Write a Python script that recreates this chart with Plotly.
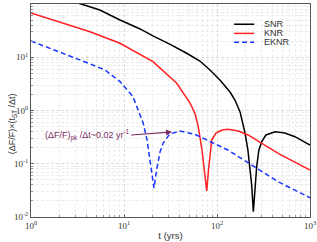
import math
import plotly.graph_objects as go

# ---- data ----
snr_t = [1, 2, 3.6, 5.5, 9.06, 14.9, 20.7, 31, 47.2, 65.5, 84, 107.5, 138, 156, 177, 200, 215,
         226, 236, 246, 256, 267, 282, 303, 336, 421, 537, 690, 1000]
snr_y = [170, 130, 98, 77, 50, 34, 25, 17.7, 11.9, 8.5, 5.77, 3.74, 2.22, 1.57, 0.94, 0.378, 0.18,
         0.088, 0.04, 0.0126, 0.04, 0.088, 0.18, 0.26, 0.347, 0.40, 0.378, 0.322, 0.225]

knr_t = [1, 2.05, 4.31, 9.06, 20.5, 36.9, 51.3, 57.9, 62.9, 69, 73.5, 77.5, 81, 87.7, 97.5,
         113, 131, 169, 216, 455, 1000]
knr_y = [67.8, 45.9, 30.2, 18.3, 8.25, 3.24, 1.38, 0.885, 0.497, 0.181, 0.076, 0.0308, 0.076,
         0.279, 0.378, 0.43, 0.443, 0.412, 0.347, 0.157, 0.076]

eknr_t = [1, 2.05, 4.31, 6.25, 9.06, 12.5, 16.1, 17.7, 19.0, 20.1, 21.0, 22.4, 24.4, 26.4, 31,
          40, 57.9, 131, 235, 455, 1000]
eknr_y = [20.2, 12.6, 7.5, 5.77, 3.48, 1.82, 0.575, 0.279, 0.117, 0.059, 0.035, 0.076, 0.166,
          0.245, 0.362, 0.41, 0.357, 0.181, 0.095, 0.046, 0.023]

series_names = ["SNR", "KNR", "EKNR"]
series_colors = ["black", "#ff2020", "#1a35ff"]
series_dash = ["solid", "solid", "5px,3px"]

x_tickvals = [1, 10, 100, 1000]
x_ticktext = ["10<sup>0</sup>", "10<sup>1</sup>", "10<sup>2</sup>", "10<sup>3</sup>"]
y_tickvals = [0.01, 0.1, 1, 10, 100]
y_ticktext = ["10<sup>-2</sup>", "10<sup>-1</sup>", "10<sup>0</sup>", "10<sup>1</sup>", "10<sup>2</sup>"]

arrow_head = (32.8, 0.394)
arrow_tail = (11.9, 0.347)
arrow_text = "(ΔF/F)<sub>pk</sub> /Δt~0.02 yr<sup>-1</sup>"

fig = go.Figure()
for t, y, name, col, dash in zip([snr_t, knr_t, eknr_t], [snr_y, knr_y, eknr_y],
                                 series_names, series_colors, series_dash):
    fig.add_trace(go.Scatter(x=t, y=y, mode="lines", name=name, showlegend=False,
                             line=dict(color=col, width=1.5, dash=dash)))

# compact legend (line samples + labels in paper coordinates)
leg_x0, leg_x1, leg_tx = 0.728, 0.80, 0.829
leg_rows = [0.905, 0.862, 0.820]
for name, col, dash, ry in zip(series_names, series_colors, series_dash, leg_rows):
    fig.add_shape(type="line", xref="paper", yref="paper", x0=leg_x0, x1=leg_x1, y0=ry, y1=ry,
                  line=dict(color=col, width=1.5, dash=dash))
    fig.add_annotation(xref="paper", yref="paper", x=leg_tx, y=ry, text=name, showarrow=False,
                       xanchor="left", yanchor="middle",
                       font=dict(family="Liberation Sans, Arial", size=9, color="#333"))

purple = "#7a2d5e"
fig.add_annotation(x=math.log10(arrow_head[0]), y=math.log10(arrow_head[1]),
                   ax=math.log10(arrow_tail[0]), ay=math.log10(arrow_tail[1]),
                   axref="x", ayref="y", xref="x", yref="y",
                   text=arrow_text, showarrow=True, arrowhead=2, arrowsize=1,
                   arrowwidth=1.2, arrowcolor=purple, xanchor="right", yanchor="middle",
                   font=dict(family="Liberation Sans, Arial", size=9, color=purple),
                   borderpad=0, standoff=0, startstandoff=0)

# y axis title
fig.add_annotation(xref="paper", yref="paper", x=-0.095, y=0.44, textangle=-90,
                   text="(ΔF/F)×(t<sub>ST</sub> /Δt)", showarrow=False,
                   font=dict(family="Liberation Sans, Arial", size=9, color="#333"))

grid_major = "#dcdcdc"
grid_minor = "#ececec"
axis_common = dict(type="log", showline=True, linecolor="#555", linewidth=1, mirror=True,
                   showgrid=True, gridcolor=grid_major, griddash="3px,2px", gridwidth=1,
                   ticks="inside", ticklen=3, tickcolor="#666", zeroline=False,
                   automargin=False,
                   tickfont=dict(family="Liberation Serif, Times New Roman", size=9, color="#333"),
                   minor=dict(dtick="D1", showgrid=True, gridcolor=grid_minor, griddash="3px,2px",
                              gridwidth=1, ticks="inside", ticklen=2, tickcolor="#999"))

fig.update_xaxes(range=[0, 3], tickvals=x_tickvals, ticktext=x_ticktext,
                 title=dict(text="t (yrs)", standoff=2,
                            font=dict(family="Liberation Sans, Arial", size=9.5, color="#333")),
                 **axis_common)
fig.update_yaxes(range=[-2, 2], tickvals=y_tickvals, ticktext=y_ticktext, ticklabelstandoff=0,
                 **axis_common)

fig.update_layout(width=317, height=242, margin=dict(l=31, r=7, t=4, b=25),
                  paper_bgcolor="white", plot_bgcolor="white", showlegend=False)

fig.write_html("out.html", config={"displayModeBar": False},
               post_script="document.body.style.margin='0';document.body.style.padding='0';")
